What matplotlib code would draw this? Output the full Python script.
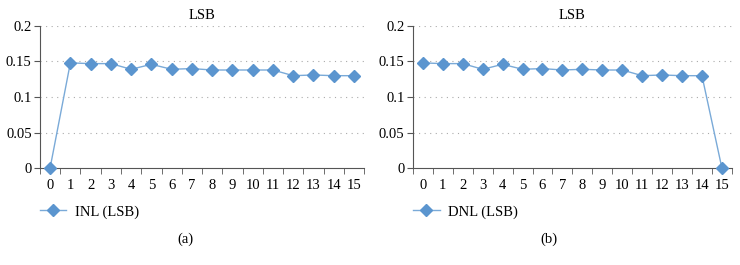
import numpy as np
import matplotlib
matplotlib.use("Agg")
import matplotlib.pyplot as plt

plt.rcParams['font.family'] = ['Liberation Serif', 'DejaVu Serif']

codes = list(range(16))
inl = [0, 0.148, 0.147, 0.147, 0.139, 0.146, 0.139, 0.140, 0.138, 0.138, 0.138, 0.138, 0.130, 0.131, 0.130, 0.130]
dnl = [0.148, 0.147, 0.147, 0.139, 0.146, 0.139, 0.140, 0.138, 0.139, 0.138, 0.138, 0.130, 0.131, 0.130, 0.130, 0]
yticks = [0, 0.05, 0.1, 0.15, 0.2]
ylabels = ["0", "0.05", "0.1", "0.15", "0.2"]

LINE = "#7aaad8"
MARK = "#5b95cf"
FS = 10.5

fig = plt.figure(figsize=(7.4, 2.65), dpi=100)

def draw(ax, vals, label, tag, lx):
    ax.plot(codes, vals, color=LINE, lw=1.0, marker="D", ms=6,
            mfc=MARK, mec=MARK, label=label, clip_on=False, zorder=3)
    ax.set_xlim(-0.5, 15.5)
    ax.set_ylim(0, 0.2)
    ax.set_yticks(yticks)
    ax.set_yticklabels(ylabels)
    ax.set_xticks(codes)
    ax.set_xticks(np.arange(-0.5, 16, 1), minor=True)
    ax.tick_params(axis="x", which="major", length=0, pad=8, labelsize=FS)
    ax.tick_params(axis="x", which="minor", length=4, color="#555555")
    ax.tick_params(axis="y", length=4, color="#555555", labelsize=FS, pad=2)
    for y in yticks[1:]:
        ax.axhline(y, color="#aaaaaa", lw=0.8, ls=(0, (1, 4)), zorder=1)
    for s in ["top", "right"]:
        ax.spines[s].set_visible(False)
    ax.spines["left"].set_color("#555555")
    ax.spines["bottom"].set_color("#555555")
    ax.set_title("LSB", fontsize=FS, pad=5)
    ax.legend(loc="upper left", bbox_to_anchor=(-0.04, -0.17), frameon=False,
              fontsize=FS, handlelength=1.8, handletextpad=0.6)
    fig.text(lx, 0.085, tag, ha="center", fontsize=FS)

ax1 = fig.add_axes([0.054, 0.366, 0.438, 0.536])
draw(ax1, inl, "INL (LSB)", "(a)", 0.25)
ax2 = fig.add_axes([0.558, 0.366, 0.431, 0.536])
draw(ax2, dnl, "DNL (LSB)", "(b)", 0.742)

fig.savefig("out.png", dpi=100)
